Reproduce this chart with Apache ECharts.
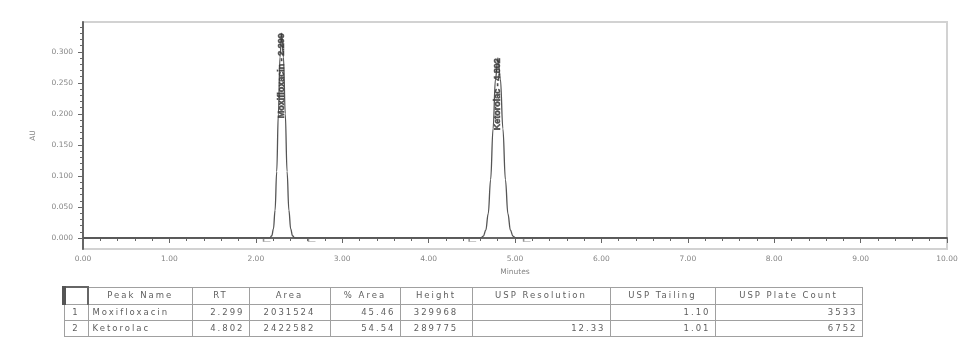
<!DOCTYPE html>
<html>
<head>
<meta charset="utf-8">
<script src="https://cdn.jsdelivr.net/npm/echarts@6/dist/echarts.min.js"></script>
<style>
  html, body { margin: 0; padding: 0; background: #fff; }
  #chart { position: absolute; left: 0; top: 0; width: 963px; height: 347px; }
  #peaks {
    position: absolute; left: 62px; top: 286px;
    border-collapse: collapse; table-layout: fixed;
    font-family: "DejaVu Sans", Arial, sans-serif; font-size: 8.5px;
    color: #5e5e5e; letter-spacing: 2px;
  }
  #peaks td {
    box-sizing: border-box; border: 1px solid #a0a0a0; padding: 0 4px;
    height: 16px; line-height: 15px; white-space: nowrap; overflow: hidden;
  }
  #peaks tr:first-child td { height: 17px; }
  #peaks tr:first-child td:first-child { border-left: 4px solid #555; border-right: 2px solid #666; border-top: 2px solid #666; }
</style>
</head>
<body>
<div id="chart"></div>
<table id="peaks"></table>
<script>
// chromatogram trace (minutes, AU)
const traceTime = [0, 2.147, 2.166, 2.185, 2.204, 2.223, 2.242, 2.261, 2.280, 2.299,
  2.320, 2.341, 2.362, 2.383, 2.404, 2.425, 2.446, 2.467,
  4.578, 4.606, 4.634, 4.662, 4.690, 4.718, 4.746, 4.774, 4.802,
  4.831, 4.860, 4.889, 4.918, 4.947, 4.976, 5.005, 5.034, 10];
const traceAU = [0, 0.0001, 0.0007, 0.0037, 0.0145, 0.0447, 0.1071, 0.2001, 0.2912, 0.330,
  0.2912, 0.2001, 0.1071, 0.0447, 0.0145, 0.0037, 0.0007, 0.0001,
  0.0001, 0.0006, 0.0032, 0.0127, 0.0392, 0.0942, 0.1759, 0.2559, 0.290,
  0.2559, 0.1759, 0.0942, 0.0392, 0.0127, 0.0032, 0.0006, 0.0001, 0];

// integration start / end marks (minutes)
const integrationMarks = [2.13, 2.65, 4.51, 5.14];

// peak table
const peakNames = ["Moxifloxacin", "Ketorolac"];
const peakRT = [2.299, 4.802];
const peakArea = [2031524, 2422582];
const peakAreaPct = [45.46, 54.54];
const peakHeight = [329968, 289775];
const peakResolution = [null, 12.33];
const peakTailing = [1.10, 1.01];
const peakPlates = [3533, 6752];

// axis ticks
const yMajorTicks = [0, 0.05, 0.10, 0.15, 0.20, 0.25, 0.30];
const yMinorTicks = [0, 0.01, 0.02, 0.03, 0.04, 0.05, 0.06, 0.07, 0.08, 0.09, 0.10,
  0.11, 0.12, 0.13, 0.14, 0.15, 0.16, 0.17, 0.18, 0.19, 0.20, 0.21, 0.22, 0.23,
  0.24, 0.25, 0.26, 0.27, 0.28, 0.29, 0.30, 0.31, 0.32, 0.33, 0.34];

const yMin = -0.0177, yMax = 0.348;
const axisGrey = "#666";
const textGrey = "#858585";
const font = '"DejaVu Sans", Arial, sans-serif';

const chart = echarts.init(document.getElementById("chart"));

const option = {
  animation: false,
  grid: {
    left: 83, right: 16, top: 22, bottom: 98,
    show: true, borderColor: "#d2d2d2", borderWidth: 2
  },
  xAxis: {
    type: "value", min: 0, max: 10, interval: 1,
    name: "Minutes", nameLocation: "middle", nameGap: 19,
    nameTextStyle: { fontSize: 7.5, color: textGrey, fontFamily: font },
    axisLine: { lineStyle: { color: axisGrey, width: 2 } },
    axisTick: { length: 5, lineStyle: { color: axisGrey } },
    minorTick: { show: true, splitNumber: 5, length: 3, lineStyle: { color: axisGrey } },
    axisLabel: { fontSize: 7.5, color: textGrey, margin: 6, fontFamily: font,
      formatter: v => v.toFixed(2) },
    splitLine: { show: false }
  },
  yAxis: [
    {
      type: "value", min: yMin, max: yMax,
      name: "AU", nameLocation: "middle", nameGap: 46, nameRotate: 90,
      nameTextStyle: { fontSize: 7.5, color: textGrey, fontFamily: font },
      axisLine: { show: true, lineStyle: { color: axisGrey, width: 2 } },
      axisTick: { show: true, length: 5, customValues: yMajorTicks, lineStyle: { color: axisGrey } },
      axisLabel: { customValues: yMajorTicks, fontSize: 7.5, color: textGrey, margin: 10,
        fontFamily: font, formatter: v => v.toFixed(3) },
      splitLine: { show: false }
    },
    {
      type: "value", min: yMin, max: yMax, position: "left",
      axisLine: { show: false },
      axisTick: { show: true, length: 3, customValues: yMinorTicks, lineStyle: { color: axisGrey } },
      axisLabel: { show: false },
      splitLine: { show: false }
    }
  ],
  series: [
    {
      type: "line",
      data: traceTime.map((t, i) => [t, traceAU[i]]),
      showSymbol: false,
      smooth: 0.4,
      smoothMonotone: "x",
      lineStyle: { color: "#555", width: 1.3 }
    },
    {
      // small integration tick marks on the baseline
      type: "scatter",
      data: integrationMarks.map(t => [t, 0]),
      symbol: "path://M0,0 L0,4 L8,4",
      symbolSize: [7, 3],
      symbolOffset: [0, 2],
      itemStyle: { color: "none", borderColor: "#777", borderWidth: 1 }
    },
    {
      // vertical peak labels at the apex of each peak
      type: "scatter",
      data: peakRT.map((rt, i) => [rt, peakHeight[i] / 1e6, peakNames[i]]),
      symbolSize: 0,
      label: {
        show: true, rotate: 90, position: [0, 0], align: "right", verticalAlign: "middle",
        fontSize: 9, fontWeight: "bold", color: "#333",
        textBorderColor: "#555", textBorderWidth: 0.6,
        fontFamily: '"Liberation Sans", Arial, sans-serif',
        formatter: p => p.value[2] + " - " + p.value[0].toFixed(3)
      },
      z: 5
    }
  ]
};

chart.setOption(option);

// peak results table
const headers = ["", "Peak Name", "RT", "Area", "% Area", "Height", "USP Resolution", "USP Tailing", "USP Plate Count"];
const colWidths = [24, 104, 57, 81, 70, 72, 138, 105, 147];
const aligns = ["center", "left", "right", "center", "right", "center", "right", "right", "right"];
const rows = peakNames.map((name, i) => [
  String(i + 1), name, peakRT[i].toFixed(3), String(peakArea[i]), peakAreaPct[i].toFixed(2),
  String(peakHeight[i]), peakResolution[i] == null ? "" : peakResolution[i].toFixed(2),
  peakTailing[i].toFixed(2), String(peakPlates[i])
]);

const table = document.getElementById("peaks");
[headers].concat(rows).forEach((r, ri) => {
  const tr = document.createElement("tr");
  r.forEach((txt, ci) => {
    const td = document.createElement("td");
    td.textContent = txt;
    td.style.width = colWidths[ci] + "px";
    td.style.textAlign = ri === 0 ? "center" : aligns[ci];
    tr.appendChild(td);
  });
  table.appendChild(tr);
});
</script>
</body>
</html>
